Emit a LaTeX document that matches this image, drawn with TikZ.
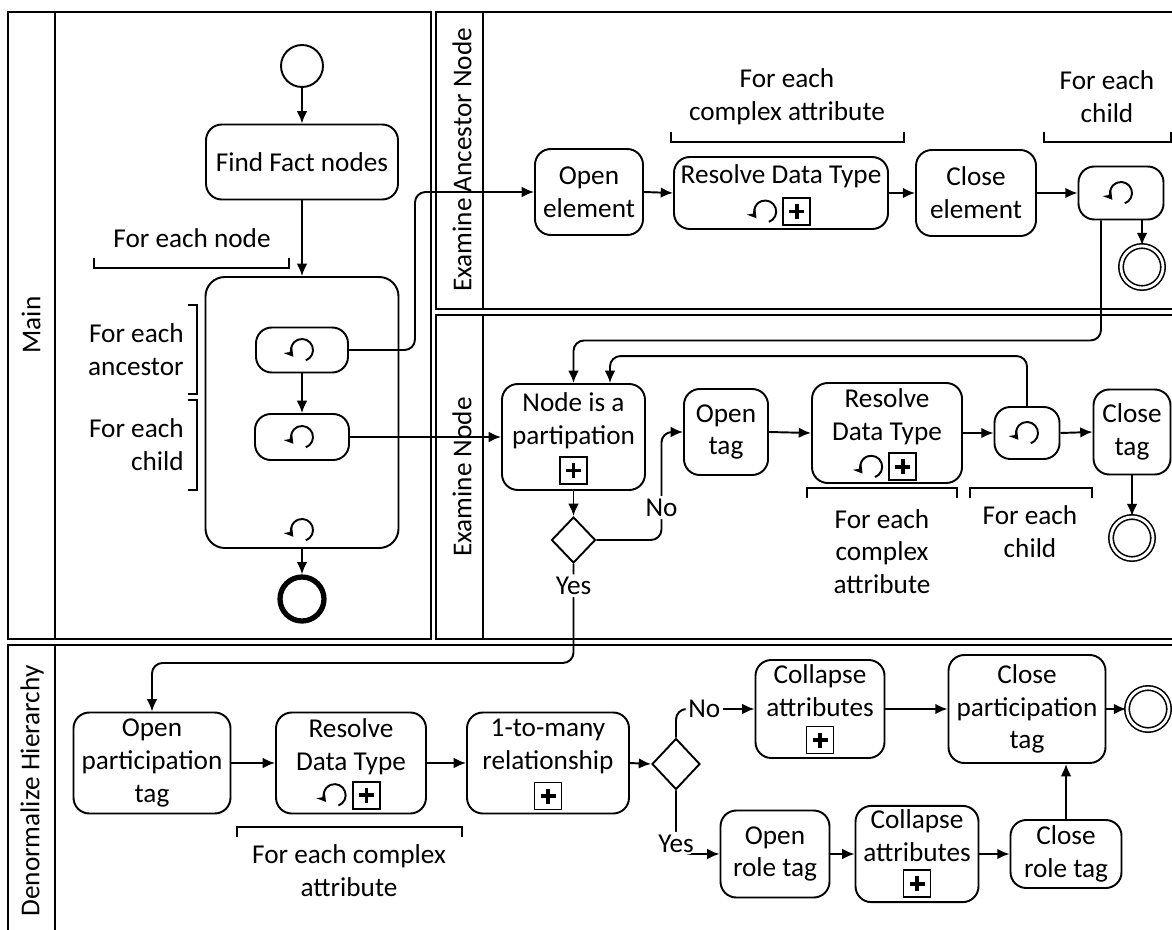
\documentclass[tikz,border=0pt]{standalone}
\usepackage{fontspec}
\setmainfont{Carlito}
\usetikzlibrary{positioning,
        shapes.geometric,
        arrows.meta}

\tikzset{
    task/.style={draw,rounded corners=9pt,line width=1.1pt,align=center,inner sep=2pt},
    boxsize/.style 2 args={minimum width=#1*0.02cm,minimum height=#2*0.02cm},
    pool/.style={draw,line width=1.4pt},
    flow/.style={-{Latex[length=7pt,width=6pt]},line width=1.1pt,rounded corners=6pt},
    gate/.style={draw,diamond,line width=1.1pt,inner sep=0pt,minimum width=0.88cm,minimum height=0.92cm},
    startev/.style={draw,circle,line width=1.1pt,minimum size=0.84cm,inner sep=0pt},
    endev/.style={draw,circle,double,double distance=1.6pt,line width=0.9pt,minimum size=0.84cm,inner sep=0pt},
    stopev/.style={draw,circle,line width=3pt,minimum size=0.88cm,inner sep=0pt},
    bracket/.style={line width=1.1pt},
    note/.style={align=center,inner sep=0pt},
    lane/.style={rotate=90,inner sep=0pt},
    flowlabel/.style={fill=white,inner sep=1.5pt},
    loopmark/.pic={\draw[line width=1.1pt,-{Stealth[length=5pt,width=6pt]}] (70:11) arc[start angle=70,end angle=-218,radius=11];},
    plusmark/.pic={\draw[line width=1.1pt] (-13.5,-13.5) rectangle (13.5,13.5);
        \draw[line width=2.1pt] (-7.5,0) -- (7.5,0) (0,-7.5) -- (0,7.5);}
}

\begin{document}
\begin{tikzpicture}[x=0.02cm,y=-0.02cm,every node/.style={font=\fontsize{15.5}{18.7}\selectfont}]
            \clip (0,0) rectangle (1172,929);
            \fill[white] (0,0) rectangle (1172,929);

            % pools
            \draw[pool] (8,12) rectangle (431,639);
            \draw[pool] (55,12) -- (55,639);
            \draw[pool] (436,12) rectangle (1180,309);
            \draw[pool] (483,12) -- (483,309);
            \draw[pool] (436,315) rectangle (1180,639);
            \draw[pool] (483,315) -- (483,639);
            \draw[pool] (8,645) rectangle (1180,940);
            \draw[pool] (55,645) -- (55,940);
            \node[lane] (mainlbl) at (31,325) {Main};
            \node[lane] (anclbl) at (462,160) {Examine Ancestor Node};
            \node[lane] (exlbl) at (462,477) {Examine Node};
            \node[lane] (denlbl) at (32,791) {Denormalize Hierarchy};

            % Main
            \node[startev] (start) at (302,66) {};
            \node[task,boxsize={192}{75}] (fact) at (302,162) {Find Fact nodes};
            \node[task,boxsize={193}{271},rounded corners=11pt] (sub) at (302,412.5) {};
            \node[task,boxsize={92}{45}] (anc) at (302,350) {};
            \node[task,boxsize={94}{46}] (chi) at (302,437) {};
            \node[stopev] (stop) at (302,599) {};
            \pic at (anc.center) {loopmark};
            \pic at (chi.center) {loopmark};
            \pic at ([yshift=10.8pt]sub.south) {loopmark};

            \draw[flow] (start) -- (fact);
            \draw[flow] (fact) -- (sub);
            \draw[flow] (anc) -- (chi);
            \draw[flow] (sub) -- (stop);

            \node[note] (nodenote) at (192,238) {For each node};
            \draw[bracket] (94,258) -- (94,268) -- (289,268) -- (289,258);
            \node[note,align=right,anchor=east] (ancnote) at (184,350) {For each\\ancestor};
            \draw[bracket] (188,305) -- (197,305) -- (197,394) -- (188,394);
            \node[note,align=right,anchor=east] (chinote) at (184,445) {For each\\child};
            \draw[bracket] (188,400) -- (197,400) -- (197,490) -- (188,490);

            % Examine Ancestor Node
            \node[task,boxsize={108}{86}] (openel) at (589,192) {Open\\element};
            \node[task,boxsize={214}{72}] (rdtA) at (781,193) {Resolve Data Type\\[-3pt]\strut};
            \node[task,boxsize={120}{86}] (closeel) at (976,193) {Close\\element};
            \node[task,boxsize={85}{53}] (loopA) at (1121,193) {};
            \node[endev] (endA) at (1142,267) {};
            \pic at ([xshift=-9pt,yshift=10.5pt]rdtA.south) {loopmark};
            \pic at ([xshift=9pt,yshift=10.5pt]rdtA.south) {plusmark};
            \pic at (loopA.center) {loopmark};

            \draw[flow] (anc.east) -- ++(66,0) |- (openel.west);
            \draw[flow] (openel.east) -- (rdtA.west);
            \draw[flow] (rdtA.east) -- (closeel.west);
            \draw[flow] (closeel.east) -- (loopA.west);
            \draw[flow] (endA |- loopA.south) -- (endA);

            \node[note] (rdtAnote) at (787,97) {For each\\complex attribute};
            \draw[bracket] (671,132) -- (671,142) -- (904,142) -- (904,132);
            \node[note] (loopAnote) at (1107,97) {For each\\child};
            \draw[bracket] (1044,132) -- (1044,142) -- (1171,142) -- (1171,132);

            % Examine Node
            \node[task,boxsize={143}{106}] (nodepart) at (573.5,437) {Node is a\\partipation\\[-3pt]\strut};
            \node[gate] (gateA) at (573.5,540) {};
            \node[task,boxsize={84}{86}] (opentag) at (726,432) {Open\\tag};
            \node[task,boxsize={150}{100}] (rdtB) at (887,433) {Resolve\\Data Type\\[-3pt]\strut};
            \node[task,boxsize={65}{52}] (loopB) at (1027,433) {};
            \node[task,boxsize={77}{85}] (closetag) at (1132,432) {Close\\tag};
            \node[endev] (endB) at (1132,538) {};
            \pic at ([yshift=11.6pt]nodepart.south) {plusmark};
            \pic at ([xshift=-9pt,yshift=9.8pt]rdtB.south) {loopmark};
            \pic at ([xshift=9pt,yshift=9.8pt]rdtB.south) {plusmark};
            \pic at (loopB.center) {loopmark};

            \draw[flow] (chi.east) -- (nodepart.west);
            \draw[flow] ([xshift=-0.4cm]loopA.south) -- ++(0,120) -| (nodepart.north);
            \draw[flow] (loopB.north) -- ++(0,-50) -| ([xshift=0.73cm]nodepart.north);
            \draw[flow] (nodepart) -- (gateA);
            \draw[flow] (gateA.east) -- ++(65,0) |- node[flowlabel,pos=0.15] {No} (opentag.west);
            \draw[flow] (opentag.east) -- (rdtB.west);
            \draw[flow] (rdtB.east) -- (loopB.west);
            \draw[flow] (loopB.east) -- (closetag.west);
            \draw[flow] (closetag) -- (endB);

            \node[note] (rdtBnote) at (882,551.5) {For each\\complex\\attribute};
            \draw[bracket] (807,498) -- (807,488) -- (957,488) -- (957,498);
            \node[note] (loopBnote) at (1030,531.5) {For each\\child};
            \draw[bracket] (970,498) -- (970,488) -- (1092,488) -- (1092,498);

            % Denormalize Hierarchy
            \node[task,boxsize={157}{101}] (openpt) at (152,763) {Open\\participation\\tag};
            \node[task,boxsize={150}{101}] (rdtC) at (351,763) {Resolve\\Data Type\\[-3pt]\strut};
            \node[task,boxsize={162}{101}] (onemany) at (548,763) {1-to-many\\relationship\\[-3pt]\strut};
            \node[gate,minimum width=0.96cm,minimum height=1.02cm] (gateB) at (676,764) {};
            \node[task,boxsize={129}{98}] (collA) at (820,709) {Collapse\\attributes\\[-3pt]\strut};
            \node[task,boxsize={157}{108}] (closept) at (1027,709) {Close\\participation\\tag};
            \node[endev] (endC) at (1148,709) {};
            \node[task,boxsize={109}{87}] (openrole) at (775,854) {Open\\role tag};
            \node[task,boxsize={123}{95}] (collB) at (917,854) {Collapse\\attributes\\[-3pt]\strut};
            \node[task,boxsize={111}{68}] (closerole) at (1066,854) {Close\\role tag};
            \pic at ([xshift=-9.3pt,yshift=11pt]rdtC.south) {loopmark};
            \pic at ([xshift=8.8pt,yshift=11pt]rdtC.south) {plusmark};
            \pic at ([yshift=10.5pt]onemany.south) {plusmark};
            \pic at ([yshift=10.8pt]collA.south) {plusmark};
            \pic at ([yshift=11pt]collB.south) {plusmark};

            \draw[flow] (gateA.south) -- node[flowlabel,pos=0.22] {Yes} ++(0,99) -| (openpt.north);
            \draw[flow] (openpt.east) -- (rdtC.west);
            \draw[flow] (rdtC.east) -- (onemany.west);
            \draw[flow] (onemany.east) -- (gateB.west);
            \draw[flow] (gateB.north) |- node[flowlabel,pos=0.68] {No} (collA.west);
            \draw[flow] (gateB.south) |- node[flowlabel,pos=0.5,yshift=6pt] {Yes} (openrole.west);
            \draw[flow] (collA.east) -- (closept.west);
            \draw[flow] (closept.east) -- (endC);
            \draw[flow] (openrole.east) -- (collB.west);
            \draw[flow] (collB.east) -- (closerole.west);
            \draw[flow] (closerole.north) -- (closerole.north |- closept.south);

            \node[note] (rdtCnote) at (349,870.5) {For each complex\\attribute};
            \draw[bracket] (237,837) -- (237,827) -- (462,827) -- (462,837);
        \end{tikzpicture}
\end{document}
